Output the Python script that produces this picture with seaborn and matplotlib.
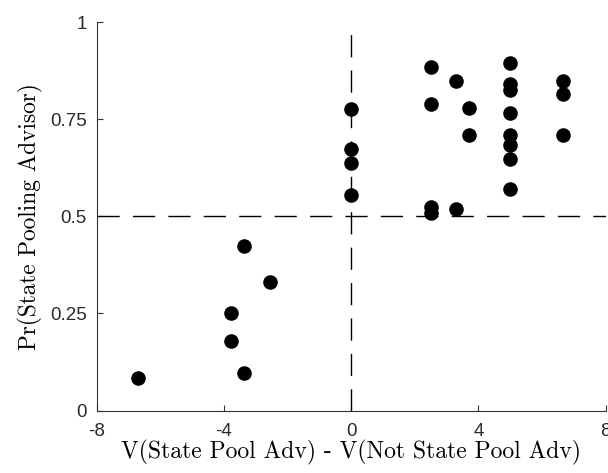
import matplotlib
matplotlib.use("Agg")
import matplotlib.pyplot as plt
import seaborn as sns
import pandas as pd

x_vals = [-6.7, -3.79, -3.79, -3.37, -3.37, -2.54,
          0, 0, 0, 0,
          2.5, 2.5, 2.5, 2.5,
          3.3, 3.3,
          3.72, 3.72,
          5, 5, 5, 5, 5, 5, 5, 5,
          6.65, 6.65, 6.65]
y_vals = [0.085, 0.25, 0.179, 0.425, 0.096, 0.331,
          0.777, 0.673, 0.637, 0.556,
          0.885, 0.790, 0.523, 0.508,
          0.849, 0.520,
          0.779, 0.709,
          0.896, 0.840, 0.826, 0.767, 0.709, 0.685, 0.649, 0.570,
          0.849, 0.814, 0.709]
x_ticks = [-8, -4, 0, 4, 8]
x_ticklabels = ["-8", "-4", "0", "4", "8"]
y_ticks = [0, 0.25, 0.5, 0.75, 1]
y_ticklabels = ["0", "0.25", "0.5", "0.75", "1"]

df = pd.DataFrame({"x": x_vals, "y": y_vals})

sns.set_style("ticks")
fig = plt.figure(figsize=(6.08, 4.73), dpi=100)
ax = fig.add_axes([0.159, 0.132, 0.837, 0.821])

ax.axhline(0.5, color="black", lw=1.0, ls=(0, (16, 9.5)), zorder=1)
ax.axvline(0, color="black", lw=1.0, ls=(0, (16, 9.5)), zorder=1)

sns.scatterplot(data=df, x="x", y="y", ax=ax, color="black", s=110,
                edgecolor="black", linewidth=0, zorder=3, legend=False)

ax.set_xlim(-8, 8)
ax.set_ylim(0, 1)
ax.set_xticks(x_ticks)
ax.set_xticklabels(x_ticklabels)
ax.set_yticks(y_ticks)
ax.set_yticklabels(y_ticklabels)
ax.tick_params(direction="in", length=4, width=0.8, colors="#333333",
               labelsize=13.5, labelcolor="#2a2a2a")
ax.tick_params(axis="x", pad=9)
ax.tick_params(axis="y", pad=7)
for lab in ax.get_xticklabels() + ax.get_yticklabels():
    lab.set_family("Liberation Sans")
sns.despine(ax=ax)
for sp in ("left", "bottom"):
    ax.spines[sp].set_color("#333333")
    ax.spines[sp].set_linewidth(0.8)

ax.set_xlabel("V(State Pool Adv) - V(Not State Pool Adv)", family="cmr10",
              fontsize=17, labelpad=0, color="black")
ax.set_ylabel("Pr(State Pooling Advisor)", family="cmr10", fontsize=16.8,
              labelpad=5, color="black")

fig.savefig("out.png", dpi=100)
